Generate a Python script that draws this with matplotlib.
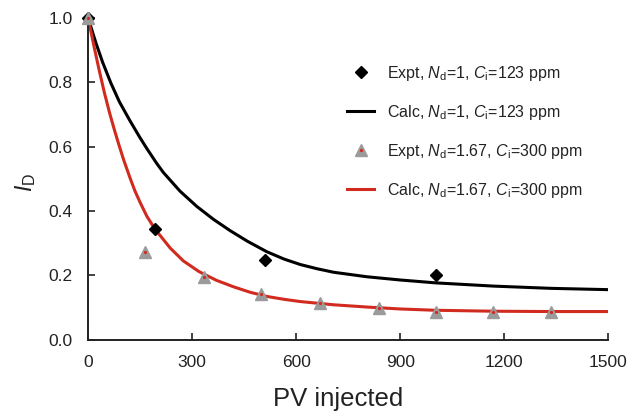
import matplotlib
matplotlib.use("Agg")
import matplotlib.pyplot as plt
from matplotlib.legend_handler import HandlerTuple

plt.rcParams['font.family'] = ['Liberation Sans', 'DejaVu Sans']
plt.rcParams['mathtext.fontset'] = 'custom'
plt.rcParams['mathtext.rm'] = 'Liberation Sans'
plt.rcParams['mathtext.it'] = 'Liberation Sans:italic'

# experimental points, Nd=1, Ci=123 ppm
expt1_pv = [0, 193, 511, 1003]
expt1_id = [1.0, 0.344, 0.248, 0.200]

# experimental points, Nd=1.67, Ci=300 ppm
expt2_pv = [0, 165, 333, 500, 668, 838, 1002, 1169, 1336]
expt2_id = [1.0, 0.272, 0.196, 0.141, 0.114, 0.098, 0.088, 0.088, 0.088]

# calculated curve, Nd=1
calc1_pv = [0, 23, 42, 66, 90, 120, 148, 169, 198, 217, 265, 314, 362, 410,
            460, 515, 565, 612, 660, 708, 804, 900, 1003, 1169, 1336, 1500]
calc1_id = [1.0, 0.921, 0.862, 0.797, 0.740, 0.682, 0.631, 0.595, 0.548, 0.520,
            0.462, 0.414, 0.374, 0.339, 0.306, 0.274, 0.251, 0.234, 0.221, 0.210,
            0.196, 0.186, 0.177, 0.167, 0.160, 0.156]

# calculated curve, Nd=1.67, Ci=300 ppm
calc2_pv = [0, 18, 33, 47, 62, 76, 90, 103, 121, 135, 150, 170, 193, 237, 275, 320,
            370, 419, 467, 515, 565, 612, 708, 804, 900, 1000, 1169, 1336, 1500]
calc2_id = [1.0, 0.907, 0.833, 0.768, 0.705, 0.652, 0.602, 0.558, 0.503, 0.463,
            0.427, 0.383, 0.344, 0.285, 0.245, 0.212, 0.185, 0.165, 0.148, 0.135,
            0.126, 0.119, 0.109, 0.102, 0.096, 0.092, 0.089, 0.088, 0.088]

red = '#D12A1F'
grey = '#9B9B9B'
ink = '#222222'

fig = plt.figure(figsize=(6.29, 4.15), dpi=100)
ax = fig.add_axes([0.140, 0.181, 0.827, 0.776])

l1, = ax.plot(calc1_pv, calc1_id, color='black', lw=2.2, zorder=2,
              solid_joinstyle='round')
l2, = ax.plot(calc2_pv, calc2_id, color=red, lw=2.2, zorder=2,
              solid_joinstyle='round')
d1, = ax.plot(expt1_pv, expt1_id, 'D', color='black', ms=6, ls='none',
              zorder=4, clip_on=False)
t1, = ax.plot(expt2_pv, expt2_id, '^', color=grey, mec=grey, ms=8.5, ls='none',
              zorder=4, clip_on=False)
t2, = ax.plot(expt2_pv, expt2_id, 'o', color=red, ms=1.3, ls='none',
              zorder=5, clip_on=False)

ax.set_xlim(0, 1500)
ax.set_ylim(0, 1.0)
ax.set_xticks([0, 300, 600, 900, 1200, 1500])
ax.set_yticks([0.0, 0.2, 0.4, 0.6, 0.8, 1.0])
ax.set_yticklabels(['0.0', '0.2', '0.4', '0.6', '0.8', '1.0'])

for s in ['top', 'right']:
    ax.spines[s].set_visible(False)
for s in ['left', 'bottom']:
    ax.spines[s].set_linewidth(1.4)
    ax.spines[s].set_color(ink)

ax.tick_params(direction='in', length=5, width=1.2, color=ink,
               labelsize=12.5, pad=11, labelcolor=ink)

ax.set_xlabel('PV injected', fontsize=18.5, color=ink)
ax.xaxis.set_label_coords(0.481, -0.145)
ax.set_ylabel(r'$I_{\rm D}$', fontsize=16.5, color=ink)
ax.yaxis.set_label_coords(-0.097, 0.49)

handles = [d1, l1, (t1, t2), l2]
labels = [r'Expt, $N_{\rm d}$=1, $C_{\rm i}$=123 ppm',
          r'Calc, $N_{\rm d}$=1, $C_{\rm i}$=123 ppm',
          r'Expt, $N_{\rm d}$=1.67, $C_{\rm i}$=300 ppm',
          r'Calc, $N_{\rm d}$=1.67, $C_{\rm i}$=300 ppm']
leg = ax.legend(handles, labels, loc='upper left', bbox_to_anchor=(0.498, 0.857),
                frameon=False, fontsize=11.5, labelspacing=1.25, handlelength=1.7,
                handletextpad=0.8, borderpad=0, borderaxespad=0,
                handler_map={tuple: HandlerTuple(ndivide=1, pad=0)})
for txt in leg.get_texts():
    txt.set_color(ink)

fig.savefig('out.png', dpi=100)
